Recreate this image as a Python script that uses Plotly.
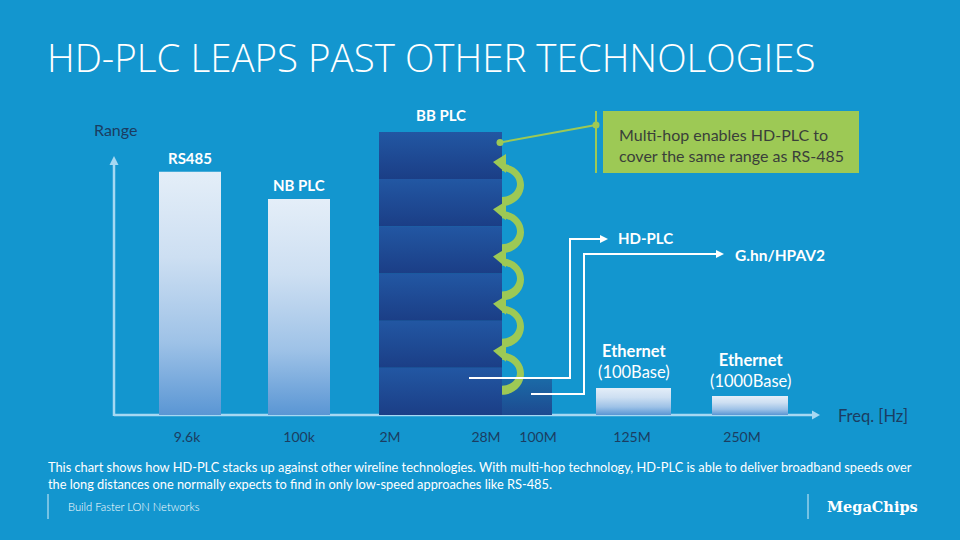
import plotly.graph_objects as go

# ---------------- data ----------------
technologies = ["RS485", "NB PLC", "BB PLC", "G.hn/HPAV2", "Ethernet<br>(100Base)", "Ethernet<br>(1000Base)"]
range_values = [100, 88.8, 116.4, 14.8, 11.1, 7.8]          # relative reach (RS485 = 100)
band_start = [4.5, 15.4, 26.5, 38.8, 48.2, 59.8]            # position on stylised frequency axis
band_end = [10.7, 21.6, 38.8, 43.8, 55.7, 67.4]
bb_hops = 6                                                 # HD-PLC multi-hop segments over BB PLC band
freq_ticks = ["9.6k", "100k", "2M", "28M", "100M", "125M", "250M"]
freq_pos = [7.3, 18.5, 27.6, 37.2, 42.4, 51.8, 62.8]

# ---------------- layout helpers ----------------
BG = "#1396CF"
NAVY = "#1B3D62"
GREEN = "#9DC955"
ML, MR, MT, MB = 114, 130, 111, 125
PW, PH = 960 - ML - MR, 540 - MT - MB
XR = [0, PW / 10.0]
YR = [0, 125]
YS = PH / (YR[1] - YR[0])     # px per y unit
XS = PW / (XR[1] - XR[0])


def px(x):
    return (x - ML) / PW


def py(y):
    return (540 - MB - y) / PH


def P(x, y):
    return f"{px(x):.5f},{py(y):.5f}"


def data_to_px_y(v):
    return 540 - MB - v * YS


def data_to_px_x(v):
    return ML + v * XS


LIGHT = [[0, "#5A96D4"], [0.3, "#9EC2E7"], [0.65, "#CDDFF2"], [1, "#E4EEF8"]]
DARK = [[0, "#1B3E86"], [1, "#2257A3"]]
MID = [[0, "#1D4A90"], [1, "#1B6AA7"]]
styles = [LIGHT, LIGHT, DARK, MID, LIGHT, LIGHT]

fig = go.Figure()


def add_bar(x0, x1, y0, y1, scale):
    fig.add_trace(go.Scatter(
        x=[x0, x1, x1, x0, x0], y=[y0, y0, y1, y1, y0],
        mode="lines", fill="toself", line=dict(width=0),
        fillgradient=dict(type="vertical", colorscale=scale, start=y0, stop=y1),
        hoverinfo="skip", showlegend=False))


for i, tech in enumerate(technologies):
    if tech == "BB PLC":
        hop = range_values[i] / bb_hops
        for k in range(bb_hops):
            add_bar(band_start[i], band_end[i], k * hop, (k + 1) * hop, styles[i])
    else:
        add_bar(band_start[i], band_end[i], 0, range_values[i], styles[i])

shapes = []
annotations = []

# axes with arrowheads (below bars)
AX = "#A6D8F2"
x_end = 812
shapes.append(dict(type="line", xref="paper", yref="paper", x0=px(114), y0=py(415), x1=px(x_end), y1=py(415),
                   line=dict(color=AX, width=2.5), layer="below"))
shapes.append(dict(type="path", xref="paper", yref="paper", layer="below",
                   path=f"M{P(x_end, 410.5)} L{P(x_end + 8, 415)} L{P(x_end, 419.5)} Z",
                   fillcolor=AX, line=dict(width=0)))
shapes.append(dict(type="line", xref="paper", yref="paper", x0=px(114), y0=py(416), x1=px(114), y1=py(164),
                   line=dict(color=AX, width=2.5), layer="below"))
shapes.append(dict(type="path", xref="paper", yref="paper", layer="below",
                   path=f"M{P(109.5, 165)} L{P(114, 156)} L{P(118.5, 165)} Z",
                   fillcolor=AX, line=dict(width=0)))

# multi-hop green arcs at the hop boundaries
bb = technologies.index("BB PLC")
hop = range_values[bb] / bb_hops
xr = data_to_px_x(band_end[bb])
kap = 0.5523
for k in range(1, bb_hops):
    c = data_to_px_y(k * hop) + 3
    ocx, ocy, orx, ory = xr, c + 3, 22, 21
    icx, icy, irx, iry = xr, c + 2, 15, 13
    path = (f"M{P(ocx, ocy - ory)} "
            f"C{P(ocx + kap * orx, ocy - ory)} {P(ocx + orx, ocy - kap * ory)} {P(ocx + orx, ocy)} "
            f"C{P(ocx + orx, ocy + kap * ory)} {P(ocx + kap * orx, ocy + ory)} {P(ocx, ocy + ory)} "
            f"L{P(icx, icy + iry)} "
            f"C{P(icx + kap * irx, icy + iry)} {P(icx + irx, icy + kap * iry)} {P(icx + irx, icy)} "
            f"C{P(icx + irx, icy - kap * iry)} {P(icx + kap * irx, icy - iry)} {P(icx, icy - iry)} Z")
    shapes.append(dict(type="path", xref="paper", yref="paper", path=path,
                       fillcolor=GREEN, line=dict(width=0)))
    head = f"M{P(xr + 4, c - 28)} L{P(xr - 9, c - 20)} L{P(xr + 4, c - 9)} Z"
    shapes.append(dict(type="path", xref="paper", yref="paper", path=head,
                       fillcolor=GREEN, line=dict(width=0)))

# white connector lines
WHITE = "#FFFFFF"
shapes.append(dict(type="path", xref="paper", yref="paper",
                   path=f"M{P(469, 378)} L{P(570, 378)} L{P(570, 239)} L{P(601, 239)}",
                   line=dict(color=WHITE, width=2)))
shapes.append(dict(type="path", xref="paper", yref="paper",
                   path=f"M{P(600, 235)} L{P(608, 239)} L{P(600, 243)} Z",
                   fillcolor=WHITE, line=dict(width=0)))
shapes.append(dict(type="path", xref="paper", yref="paper",
                   path=f"M{P(531, 394)} L{P(584, 394)} L{P(584, 254)} L{P(717, 254)}",
                   line=dict(color=WHITE, width=2)))
shapes.append(dict(type="path", xref="paper", yref="paper",
                   path=f"M{P(716, 250)} L{P(724, 254)} L{P(716, 258)} Z",
                   fillcolor=WHITE, line=dict(width=0)))

# callout
shapes.append(dict(type="rect", xref="paper", yref="paper", x0=px(603), x1=px(859), y0=py(111), y1=py(173),
                   fillcolor=GREEN, line=dict(width=0)))
shapes.append(dict(type="line", xref="paper", yref="paper", x0=px(596), x1=px(596), y0=py(111), y1=py(173),
                   line=dict(color=GREEN, width=2)))
shapes.append(dict(type="line", xref="paper", yref="paper", x0=px(596), x1=px(500), y0=py(125), y1=py(142.5),
                   line=dict(color=GREEN, width=2)))
for cx, cy in [(596, 125), (500, 142.5)]:
    shapes.append(dict(type="circle", xref="paper", yref="paper", x0=px(cx - 3.5), x1=px(cx + 3.5),
                       y0=py(cy - 3.5), y1=py(cy + 3.5), fillcolor=GREEN, line=dict(width=0)))

# footer lines
for xl in [48, 808]:
    shapes.append(dict(type="line", xref="paper", yref="paper", x0=px(xl), x1=px(xl), y0=py(494), y1=py(519),
                       line=dict(color="#D8EEF9", width=1)))


def ann(text, x, y, size, color=WHITE, xanchor="center", yanchor="middle", family="Lato", weight=None, align="center"):
    f = dict(size=size, color=color, family=family)
    if weight:
        f["weight"] = weight
    annotations.append(dict(text=text, x=px(x), y=py(y), xref="paper", yref="paper", showarrow=False,
                            xanchor=xanchor, yanchor=yanchor, font=f, align=align))


# bar labels (data anchored)
label_shift = {"RS485": 3, "NB PLC": 3, "BB PLC": 6, "Ethernet<br>(100Base)": 4, "Ethernet<br>(1000Base)": 3}
for i, tech in enumerate(technologies):
    if tech in label_shift:
        eth = "Ethernet" in tech
        annotations.append(dict(
            text=(tech.replace("Ethernet", "<b>Ethernet</b>") if eth else f"<b>{tech}</b>"),
            x=(band_start[i] + band_end[i]) / 2, y=range_values[i], xref="x", yref="y",
            showarrow=False, yanchor="bottom", yshift=label_shift[tech],
            font=dict(size=16.5 if eth else 15, color=WHITE, family="Lato")))

ann("<b>HD-PLC</b>", 616, 238, 15, xanchor="left")
ann(f"<b>{technologies[3]}</b>", 733, 255, 15.5, xanchor="left")

ann("HD-PLC LEAPS PAST OTHER TECHNOLOGIES", 45, 57, 38.5, family="Open Sans", weight=300, xanchor="left")
ann("Range", 92, 129, 16, color=NAVY, xanchor="left")
ann("Freq. [Hz]", 836, 416, 16.5, color=NAVY, xanchor="left")
ann("Multi-hop enables HD-PLC to<br>cover the same range as RS-485", 617, 145, 16, color="#3A3F3A",
    xanchor="left", align="left")
ann("This chart shows how HD-PLC stacks up against other wireline technologies. With multi-hop technology, "
    "HD-PLC is able to deliver broadband speeds over", 46, 467, 12.8, xanchor="left")
ann("the long distances one normally expects to find in only low-speed approaches like RS-485.", 46, 484, 12.8,
    xanchor="left")
ann("Build Faster LON Networks", 66, 506, 11.2, xanchor="left", weight=300)
ann("<b>MegaChips</b>", 825, 506, 14.5, xanchor="left", family="DejaVu Serif")

fig.update_layout(
    width=960, height=540, autosize=False,
    margin=dict(l=ML, r=MR, t=MT, b=MB),
    paper_bgcolor=BG, plot_bgcolor=BG,
    showlegend=False,
    xaxis=dict(range=XR, showgrid=False, zeroline=False, showline=False, ticks="",
               tickvals=freq_pos, ticktext=freq_ticks, ticklabelstandoff=12,
               tickfont=dict(family="Lato", size=14, color=NAVY), fixedrange=True),
    yaxis=dict(range=YR, showgrid=False, zeroline=False, showline=False, showticklabels=False, fixedrange=True),
    shapes=shapes, annotations=annotations,
)

fig.write_html("out.html", config={"displayModeBar": False},
               post_script="document.body.style.margin='0';document.body.style.overflow='hidden';")
